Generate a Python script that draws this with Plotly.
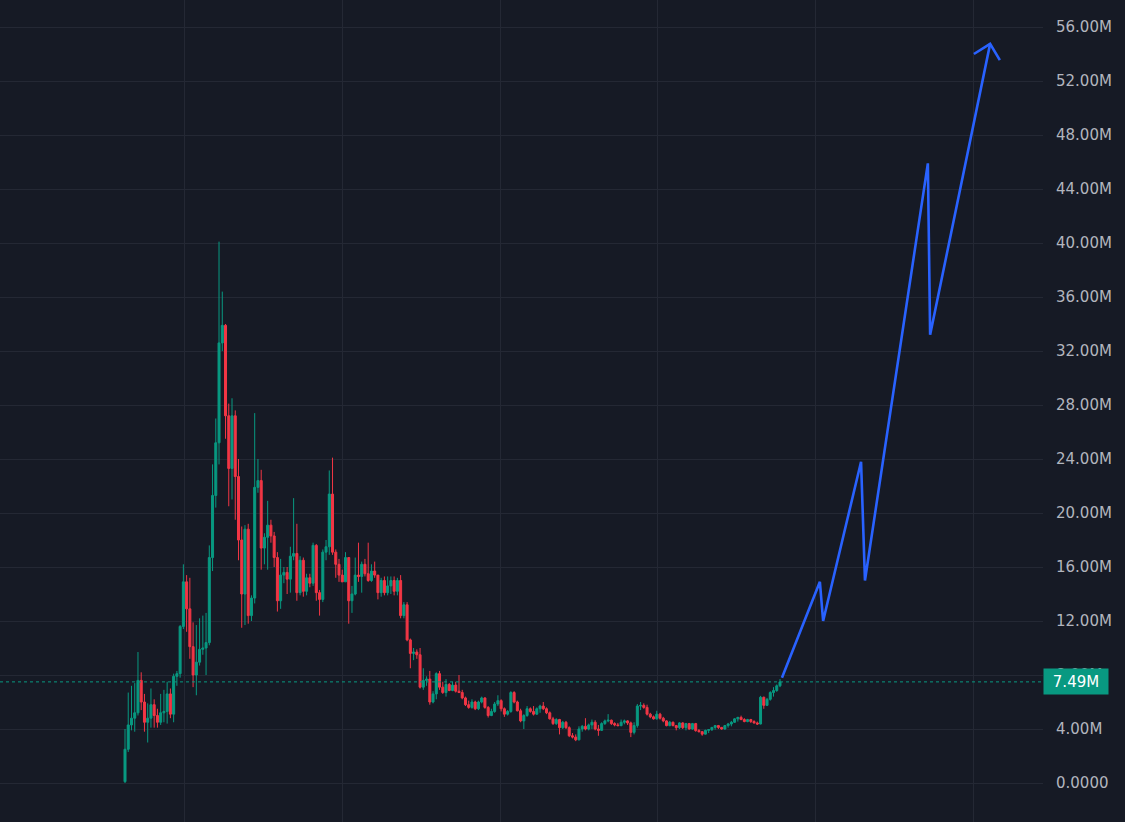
import plotly.graph_objects as go

# ---- data (prices in millions) ----
open_ = [0.1, 2.5, 4.3, 4.8, 5.2, 7.6, 6.0, 4.5, 4.8, 5.8, 5.0, 4.5, 5.2, 5.3, 6.6, 5.1, 7.9, 8.1, 11.6, 14.9,
         12.9, 10.1, 8.0, 8.95, 9.9, 10.0, 10.4, 16.7, 21.3, 25.2, 32.6,
         33.9, 27.2, 23.3, 27.2, 22.7, 18.0, 14.0, 18.8, 12.4, 13.7, 21.9, 22.4, 17.4, 18.2, 19.1, 18.3, 16.7, 13.5, 15.4,
         15.6, 15.1, 16.8, 17.0, 14.1, 16.5, 14.2, 15.2, 14.8, 17.6, 14.1, 13.6, 17.1, 17.5, 21.4, 17.1, 16.2, 15.4, 14.9,
         16.7, 13.5, 14.0, 15.4, 15.3, 16.2, 15.5, 15.0, 15.7, 15.4, 14.1, 15.0, 14.1, 14.6, 15.0, 14.2, 15.0, 12.4, 13.2,
         10.6, 9.6, 9.7, 9.5, 7.1, 7.6, 7.7, 6.0, 6.6, 8.1, 7.1, 6.7, 7.3, 6.85, 7.25, 6.8, 6.7, 6.3, 5.8, 5.6, 6.0, 5.5,
         6.0, 6.3, 5.6, 5.0, 5.3, 5.85, 6.1, 5.5, 5.1, 5.3, 6.7, 6.0, 5.35, 4.6, 5.0, 5.5, 5.3, 5.1, 5.5, 5.7, 5.5, 5.2,
         4.75, 4.4, 4.7, 4.1, 4.5, 4.1, 3.5, 3.4, 3.2, 4.0, 4.2, 4.0, 4.3, 4.5, 4.0, 3.9, 4.4,
         4.6, 4.65, 4.4, 4.3, 4.25, 4.5, 4.6, 4.45, 3.75, 4.25, 5.7, 5.75, 5.6, 5.1, 4.9, 4.75, 5.1, 4.8, 4.6, 4.25,
         4.5, 4.25, 4.1, 4.45, 4.1, 4.4, 4.0, 4.4, 3.88, 3.8, 3.62, 3.9, 3.95, 4.12, 4.25, 4.12, 4.0, 4.25, 4.37, 4.5,
         4.75, 4.86, 4.7, 4.55, 4.7, 4.55, 4.45, 4.37, 6.35, 5.75, 6.2, 6.7, 6.85, 7.2]
high = [4.0, 6.7, 7.2, 7.4, 9.7, 8.2, 6.6, 5.9, 7.0, 6.2, 5.5, 6.6, 6.9, 7.5, 7.0, 8.1, 8.3, 11.7, 16.2, 15.4,
        15.2, 11.9, 11.7, 12.2, 12.4, 12.6, 17.6, 23.6, 27.0, 40.1, 36.4,
        34.0, 28.1, 28.5, 27.6, 24.0, 19.0, 19.1, 19.2, 13.9, 27.4, 24.0, 23.2, 18.5, 20.9, 19.5, 18.6, 17.1, 16.6, 16.0,
        16.0, 17.5, 21.1, 19.2, 16.8, 16.7, 15.5, 15.5, 17.8, 17.7, 14.3, 17.3, 18.0, 23.15, 24.1, 17.3, 16.6, 15.8, 17.1,
        16.7, 14.6, 16.7, 17.8, 16.4, 16.6, 17.8, 16.2, 16.4, 15.4, 15.2, 15.3, 15.3, 15.3, 15.3, 15.2, 15.4, 13.4, 13.4,
        10.7, 10.0, 9.9, 10.0, 8.5, 7.9, 8.3, 6.8, 8.2, 8.3, 7.5, 7.7, 7.4, 7.5, 7.5, 8.0, 6.9, 6.4, 6.1, 6.2, 6.1,
        6.1, 6.4, 6.35, 5.7, 5.5, 6.0, 6.5, 6.2, 5.6, 5.4, 6.8, 6.8, 6.1, 5.5, 5.1, 5.7, 5.6, 5.7, 5.6, 5.8, 6.0, 5.6,
        5.3, 4.9, 4.8, 4.75, 4.6, 4.6, 4.2, 3.7, 3.6, 4.2, 4.3, 4.8, 4.4, 4.7, 4.65, 4.3, 4.5,
        4.7, 5.1, 4.7, 4.5, 4.45, 4.7, 4.7, 4.65, 4.55, 4.5, 5.85, 6.0, 5.9, 5.8, 5.2, 5.0, 5.35, 5.2, 4.9, 4.65,
        4.6, 4.55, 4.3, 4.5, 4.5, 4.45, 4.45, 4.45, 4.45, 4.0, 3.85, 3.95, 4.0, 4.15, 4.3, 4.3, 4.15, 4.3, 4.45, 4.6,
        4.8, 4.9, 4.99, 4.8, 4.75, 4.75, 4.65, 4.55, 6.45, 6.4, 6.3, 6.8, 7.1, 7.3, 7.7]
low = [0.0, 2.3, 3.9, 3.8, 5.0, 5.4, 3.8, 3.0, 4.1, 4.1, 4.1, 4.3, 4.5, 4.4, 4.8, 4.5, 7.2, 7.8, 11.4, 11.2,
       9.2, 7.1, 6.5, 8.7, 9.5, 8.0, 10.2, 15.7, 20.4, 23.6, 32.0,
       25.5, 20.5, 21.0, 19.5, 16.5, 11.5, 11.7, 11.8, 12.0, 13.3, 21.5, 15.8, 16.2, 15.8, 17.8, 16.0, 12.7, 12.9, 14.8,
       14.0, 14.1, 16.5, 13.5, 13.9, 13.8, 13.9, 14.5, 14.6, 13.5, 12.4, 13.4, 16.5, 16.9, 16.9, 15.2, 14.9, 14.9, 14.9,
       11.8, 12.6, 13.9, 14.9, 14.1, 15.3, 14.9, 14.9, 15.2, 13.6, 13.8, 13.9, 13.9, 14.0, 13.9, 13.9, 12.2, 12.2, 10.5,
       8.5, 9.1, 9.2, 7.0, 6.9, 7.2, 5.8, 5.9, 6.2, 6.9, 6.6, 6.4, 6.8, 6.8, 6.7, 6.7, 6.2, 5.7, 5.5, 5.5, 5.4,
       5.4, 5.9, 5.5, 4.85, 4.95, 5.2, 5.7, 5.3, 4.9, 5.0, 5.2, 5.9, 5.3, 4.5, 4.0, 4.9, 5.2, 5.0, 5.05, 5.2, 5.4, 5.1,
       4.7, 4.3, 4.3, 3.6, 4.0, 4.0, 3.4, 3.3, 3.1, 3.15, 3.8, 3.9, 3.9, 4.0, 3.9, 3.5, 3.85,
       4.3, 4.5, 4.3, 4.2, 4.2, 4.2, 4.35, 4.3, 3.4, 3.6, 4.1, 5.4, 5.5, 5.0, 4.8, 4.7, 4.7, 4.7, 4.5, 4.2,
       4.2, 4.2, 3.9, 4.0, 4.0, 3.9, 3.95, 3.95, 3.8, 3.75, 3.5, 3.6, 3.7, 3.85, 3.95, 4.0, 3.95, 3.95, 4.1, 4.2,
       4.45, 4.55, 4.65, 4.5, 4.5, 4.45, 4.4, 4.3, 4.35, 5.5, 5.7, 6.1, 6.4, 6.75, 7.1]
close = [2.5, 4.3, 4.8, 5.2, 7.6, 6.0, 4.5, 4.8, 5.8, 5.0, 4.5, 5.2, 5.3, 6.6, 5.1, 7.9, 8.1, 11.6, 14.9, 12.9,
         10.1, 8.0, 8.95, 9.9, 10.0, 10.4, 16.7, 21.3, 25.2, 32.6, 33.9,
         27.2, 23.3, 27.2, 22.7, 18.0, 14.0, 18.8, 12.4, 13.7, 21.9, 22.4, 17.4, 18.2, 19.1, 18.3, 16.7, 13.5, 15.4, 15.6,
         15.1, 16.8, 17.0, 14.1, 16.5, 14.2, 15.2, 14.8, 17.6, 14.1, 13.6, 17.1, 17.5, 21.4, 17.1, 16.2, 15.4, 14.9, 16.7,
         13.5, 14.0, 15.4, 15.3, 16.2, 15.5, 15.0, 15.7, 15.4, 14.1, 15.0, 14.1, 14.6, 15.0, 14.2, 15.0, 12.4, 13.2, 10.6,
         9.6, 9.7, 9.5, 7.1, 7.6, 7.7, 6.0, 6.6, 8.1, 7.1, 6.7, 7.3, 6.85, 7.25, 6.8, 6.7, 6.3, 5.8, 5.6, 6.0, 5.5, 6.0,
         6.3, 5.6, 5.0, 5.3, 5.85, 6.1, 5.5, 5.1, 5.3, 6.7, 6.0, 5.35, 4.6, 5.0, 5.5, 5.3, 5.1, 5.5, 5.7, 5.5, 5.2, 4.75,
         4.4, 4.7, 4.1, 4.5, 4.1, 3.5, 3.4, 3.2, 4.0, 4.2, 4.0, 4.3, 4.5, 4.0, 3.9, 4.4, 4.6,
         4.65, 4.4, 4.3, 4.25, 4.5, 4.6, 4.45, 3.75, 4.25, 5.7, 5.75, 5.6, 5.1, 4.9, 4.75, 5.1, 4.8, 4.6, 4.25, 4.5,
         4.25, 4.1, 4.45, 4.1, 4.4, 4.0, 4.4, 3.88, 3.8, 3.62, 3.9, 3.95, 4.12, 4.25, 4.12, 4.0, 4.25, 4.37, 4.5, 4.75,
         4.86, 4.7, 4.55, 4.7, 4.55, 4.45, 4.37, 6.35, 5.75, 6.2, 6.7, 6.85, 7.2, 7.49]
bar_index = list(range(len(close)))

# projection drawing (x in bar units, y in millions)
proj_x = [202.6, 214.3, 215.3, 227.0, 228.2, 247.6, 248.3, 266.8]
proj_y = [7.8, 14.9, 12.0, 23.8, 15.0, 45.9, 33.2, 54.75]
arrow_x = [261.8, 266.8, 269.8]
arrow_y = [54.0, 54.75, 53.55]

last_price = 7.49
last_label = "7.49M"

y_tickvals = [0, 4, 8, 12, 16, 20, 24, 28, 32, 36, 40, 44, 48, 52, 56]
y_ticktext = ["0.0000", "4.00M", "8.00M", "12.00M", "16.00M", "20.00M", "24.00M", "28.00M",
              "32.00M", "36.00M", "40.00M", "44.00M", "48.00M", "52.00M", "56.00M"]

BG = "#161a25"
GRID = "#242834"
UP = "#089981"
DOWN = "#f23645"

fig = go.Figure()
fig.add_trace(go.Candlestick(
    x=bar_index, open=open_, high=high, low=low, close=close,
    increasing=dict(line=dict(color=UP, width=1), fillcolor=UP),
    decreasing=dict(line=dict(color=DOWN, width=1), fillcolor=DOWN),
    whiskerwidth=0, showlegend=False, hoverinfo="skip",
))
fig.add_trace(go.Scatter(x=proj_x, y=proj_y, mode="lines",
                         line=dict(color="#2962ff", width=2.6), showlegend=False, hoverinfo="skip"))
fig.add_trace(go.Scatter(x=arrow_x, y=arrow_y, mode="lines",
                         line=dict(color="#2962ff", width=2.6), showlegend=False, hoverinfo="skip"))

fig.add_hline(y=last_price, line=dict(color=UP, width=1, dash="dot"))

fig.add_annotation(xref="paper", yref="y", x=1.0, y=last_price, xanchor="left", yanchor="middle",
                   text=last_label, showarrow=False, bgcolor=UP, width=58, height=19, borderpad=3,
                   font=dict(family="DejaVu Sans", size=15, color="#ffffff"))

# x mapping: first bar at px 125, last bar at px 780 of a 1043 px plot
n = len(close)
pitch = 655.0 / (n - 1)
x0 = -125.0 / pitch
x1 = x0 + 1043.0 / pitch
grid_px = [184.5, 342.3, 500.1, 657.9, 815.7, 973.5]
grid_vals = [x0 + p / pitch for p in grid_px]

fig.update_layout(
    width=1125, height=822,
    margin=dict(l=0, r=82, t=0, b=0),
    paper_bgcolor=BG, plot_bgcolor=BG,
    showlegend=False,
    boxgap=0.12,
    xaxis=dict(range=[x0, x1], showticklabels=False, showgrid=True, gridcolor=GRID, gridwidth=1,
               tickvals=grid_vals, zeroline=False, rangeslider=dict(visible=False), fixedrange=True),
    yaxis=dict(side="right", range=[-2.889, 58.0], tickvals=y_tickvals, ticktext=y_ticktext,
               showgrid=True, gridcolor=GRID, gridwidth=1, zeroline=False, ticks="",
               ticklabelstandoff=12, fixedrange=True,
               tickfont=dict(family="DejaVu Sans", size=15, color="#b2b5be")),
)

fig.write_html("out.html", config={"displayModeBar": False},
               post_script="document.body.style.margin='0px';document.body.style.background='%s';" % BG)
